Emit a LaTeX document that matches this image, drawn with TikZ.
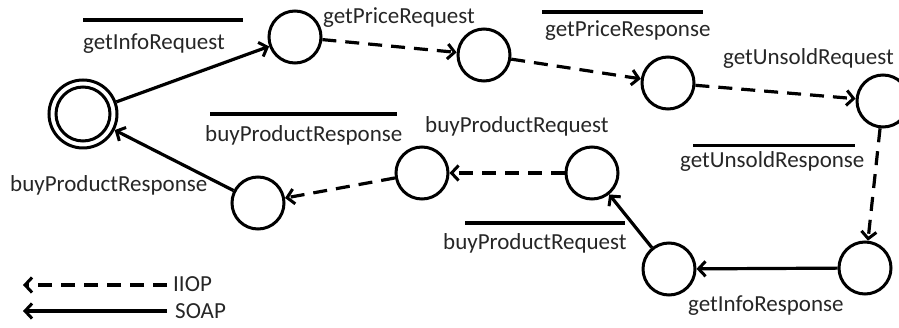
\documentclass[tikz,border=0pt]{standalone}
\usepackage{fontspec}
\setmainfont{Carlito}
\usetikzlibrary{arrows.meta}
\begin{document}
\begin{tikzpicture}[x=1pt,y=-1pt,
  st/.style={circle,draw,line width=3pt,inner sep=0pt,minimum size=52pt},
  lbl/.style={inner sep=0pt,anchor=base west,text=black!85,font=\fontsize{23}{27}\selectfont},
  soap/.style={line width=3.2pt,-{Straight Barb[length=7pt,width=15pt,line width=3pt]}},
  iiop/.style={soap,dash pattern=on 14pt off 9pt},
  bar/.style={line width=3.3pt}]
\useasboundingbox (0,0) rectangle (899,328);
% states
\node[st,minimum size=68pt] (n0) at (83,114) {};
\node[circle,draw,line width=3pt,inner sep=0pt,minimum size=54pt] at (83,114) {};
\node[st] (n1) at (295,37) {};
\node[st] (n2) at (484,55) {};
\node[st] (n3) at (668,83) {};
\node[st] (n4) at (883,101) {};
\node[st] (n5) at (865,268) {};
\node[st] (n6) at (669,269) {};
\node[st] (n7) at (592,173) {};
\node[st] (n8) at (422,173) {};
\node[st] (n9) at (258,203) {};
% transitions
\draw[soap] (n0) -- (n1);
\draw[iiop] (n1) -- (n2);
\draw[iiop] (n2) -- (n3);
\draw[iiop] (n3) -- (n4);
\draw[iiop] (n4) -- (n5);
\draw[soap] (n5) -- (n6);
\draw[soap] (n6) -- (n7);
\draw[iiop] (n7) -- (n8);
\draw[iiop] (n8) -- (n9);
\draw[soap] (n9) -- (n0);
% labels
\node[lbl] (l1) at (83,50) {getInfoRequest};
\draw[bar] (83,20) -- (243,20);
\node[lbl] (l2) at (323,24) {getPriceRequest};
\node[lbl] (l3) at (545,37) {getPriceResponse};
\draw[bar] (542,12) -- (703,12);
\node[lbl] (l4) at (723,65) {getUnsoldRequest};
\node[lbl] (l5) at (680,168) {getUnsoldResponse};
\draw[bar] (693,145.5) -- (855,145.5);
\node[lbl] (l6) at (425,133) {buyProductRequest};
\node[lbl] (l7) at (205,142) {buyProductResponse};
\draw[bar] (210,114) -- (397,114);
\node[lbl] (l8) at (10,192) {buyProductResponse};
\node[lbl] (l9) at (443,250) {buyProductRequest};
\draw[bar] (465,223) -- (625,223);
\node[lbl] (l10) at (688,312) {getInfoResponse};
% legend
\coordinate (a1) at (167,285);
\coordinate (b1) at (23,285);
\coordinate (a2) at (167,311);
\coordinate (b2) at (23,311);
\draw[iiop] (a1) -- (b1);
\draw[soap] (a2) -- (b2);
\node[lbl] (k1) at (173,292) {IIOP};
\node[lbl] (k2) at (175,319) {SOAP};
\end{tikzpicture}
\end{document}
